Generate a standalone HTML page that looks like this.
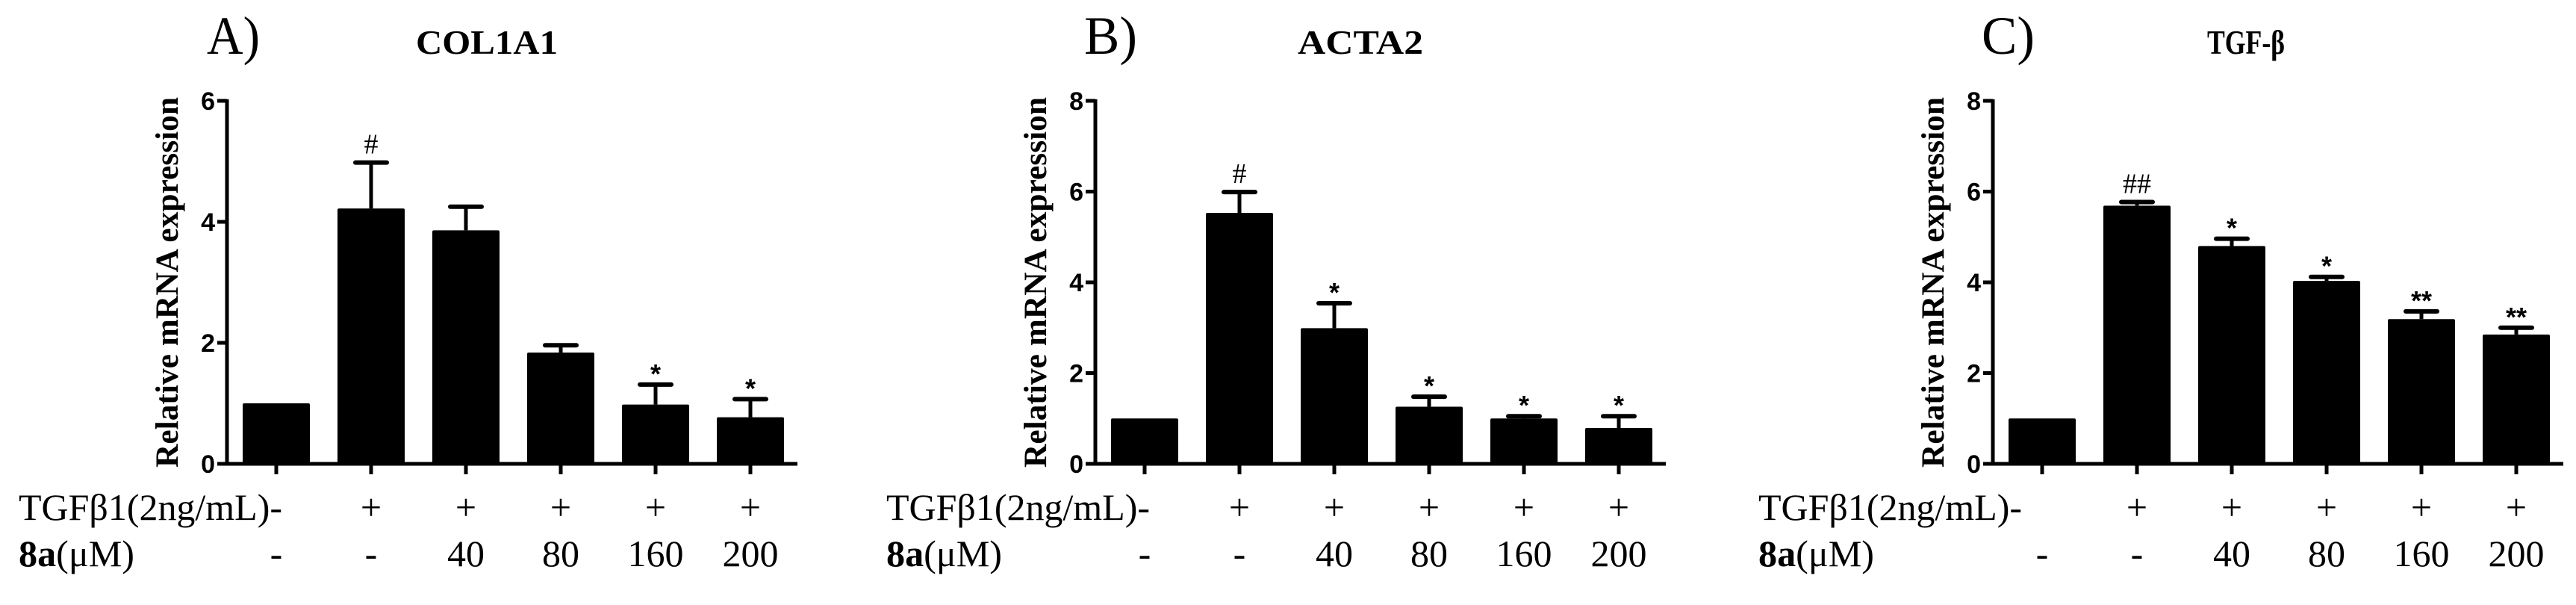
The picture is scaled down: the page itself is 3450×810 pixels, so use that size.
<!DOCTYPE html>
<html><head><meta charset="utf-8">
<style>
html,body{margin:0;padding:0;background:#fff;}
svg{display:block;}
.serif{font-family:"Liberation Serif",serif;}
.sans{font-family:"Liberation Sans",sans-serif;}
</style></head>
<body>
<svg id="fig" width="3450" height="810" viewBox="0 0 3450 810" xmlns="http://www.w3.org/2000/svg"></svg>
<script>
// ---- data ----
const panelLetters = ["A)", "B)", "C)"];
const panelTitles = ["COL1A1", "ACTA2", "TGF-β"];
const colValues = [1.0, 4.22, 3.86, 1.84, 0.98, 0.77];
const colErrors = [0.0, 0.76, 0.39, 0.12, 0.33, 0.30];
const colMarks = ["", "#", "", "", "*", "*"];
const actaValues = [1.0, 5.53, 2.99, 1.26, 1.0, 0.79];
const actaErrors = [0.0, 0.46, 0.55, 0.22, 0.05, 0.26];
const actaMarks = ["", "#", "*", "*", "*", "*"];
const tgfValues = [1.0, 5.69, 4.80, 4.03, 3.19, 2.85];
const tgfErrors = [0.0, 0.08, 0.16, 0.09, 0.17, 0.15];
const tgfMarks = ["", "##", "*", "*", "**", "**"];
const yMaxes = [6, 8, 8];
const yTicksA = [0, 2, 4, 6];
const yTicksBC = [0, 2, 4, 6, 8];
const tgfRow = ["+", "+", "+", "+", "+"];
const doseRow = ["-", "-", "40", "80", "160", "200"];

const NS = "http://www.w3.org/2000/svg";
const svg = document.getElementById("fig");
function mk(tag, attrs, parent, text) {
  const e = document.createElementNS(NS, tag);
  for (const k in attrs) e.setAttribute(k, attrs[k]);
  if (text !== undefined) e.textContent = text;
  (parent || svg).appendChild(e);
  return e;
}

const axisXs = [304, 1467, 2669];
const rowXs = [25, 1187, 2355];
const titleXs = [652, 1822, 3008];
const letterXs = [277, 1452, 2654];
const titleLens = [190, 168, 104];
const Y0 = 621, YTOP = 135;
const allValues = [colValues, actaValues, tgfValues];
const allErrors = [colErrors, actaErrors, tgfErrors];
const allMarks = [colMarks, actaMarks, tgfMarks];
const allTicks = [yTicksA, yTicksBC, yTicksBC];
const names = ["col1a1", "acta2", "tgfb"];

for (let p = 0; p < 3; p++) {
  const ax = axisXs[p];
  const g = mk("g", {}, svg);
  
  
  const yScale = v => Y0 - (v / yMaxes[p]) * (Y0 - YTOP);
  const xScale = i => ax + 66 + i * 127;

  const lt = mk("text", {x: letterXs[p], y: 72, "font-size": 72, class: "serif", textLength: 71, lengthAdjust: "spacingAndGlyphs"}, g, panelLetters[p]);
  
  
  const tt = mk("text", {x: titleXs[p], y: 72, "font-size": 45, "font-weight": "bold", class: "serif", "text-anchor": "middle", textLength: titleLens[p], lengthAdjust: "spacingAndGlyphs"}, g, panelTitles[p]);
  
  

  const yl = mk("text", {x: 0, y: 0, "font-size": 43, "font-weight": "bold", class: "serif", "text-anchor": "middle", textLength: 496, lengthAdjust: "spacingAndGlyphs", transform: "translate(" + (ax - 66) + "," + 378 + ") rotate(-90)"}, g, "Relative mRNA expression");
  
  

  const ya = mk("line", {x1: ax, y1: YTOP - 2, x2: ax, y2: Y0 + 2, stroke: "#000", "stroke-width": 5}, g);
  
  
  const xa = mk("line", {x1: ax - 2, y1: Y0, x2: ax + 764, y2: Y0, stroke: "#000", "stroke-width": 5}, g);
  
  

  allTicks[p].forEach(t => {
    const y = yScale(t);
    const tk = mk("line", {x1: ax - 13, y1: y, x2: ax, y2: y, stroke: "#000", "stroke-width": 5}, g);
    
    
    const tl = mk("text", {x: ax - 16, y: y + 12, "font-size": 34, "font-weight": "bold", class: "sans", "text-anchor": "end"}, g, String(t));
    
    
  });

  const vals = allValues[p], errs = allErrors[p], marks = allMarks[p];
  vals.forEach((v, i) => {
    const cx = xScale(i);
    const top = yScale(v);
    const ct = mk("line", {x1: cx, y1: Y0, x2: cx, y2: Y0 + 14, stroke: "#000", "stroke-width": 5}, g);
    
    
    let capY = top;
    if (errs[i] > 0) {
      capY = yScale(v + errs[i]);
      const el = mk("line", {x1: cx, y1: top, x2: cx, y2: capY, stroke: "#000", "stroke-width": 5}, g);
      
      
      const ec = mk("line", {x1: cx - 21, y1: capY, x2: cx + 21, y2: capY, stroke: "#000", "stroke-width": 6, "stroke-linecap": "round"}, g);
      
      
    }
    const b = mk("rect", {x: cx - 45, y: top, width: 90, height: Y0 - top, fill: "#000", rx: 2}, g);
    
    
    if (marks[i]) {
      const isHash = marks[i].indexOf("#") >= 0;
      const m = mk("text", {x: cx, y: isHash ? capY - 12 : capY - 2, "font-size": isHash ? 38 : 36, "font-weight": isHash ? "normal" : "bold", class: isHash ? "serif" : "sans", "text-anchor": "middle"}, g, marks[i]);
      
      
    }
    if (i > 0) {
      const r1 = mk("text", {x: cx, y: 696, "font-size": 50, class: "serif", "text-anchor": "middle"}, g, tgfRow[i - 1]);
      
      
    }
    const r2 = mk("text", {x: cx, y: 758, "font-size": 50, class: "serif", "text-anchor": "middle"}, g, doseRow[i]);
    
    
  });

  const rl1 = mk("text", {x: rowXs[p], y: 696, "font-size": 50, class: "serif", textLength: 353, lengthAdjust: "spacingAndGlyphs"}, g, "TGFβ1(2ng/mL)-");
  
  
  const rl2 = mk("text", {x: rowXs[p], y: 758, "font-size": 50, class: "serif", textLength: 155, lengthAdjust: "spacingAndGlyphs"}, g);
  
  
  mk("tspan", {"font-weight": "bold"}, rl2, "8a");
  mk("tspan", {}, rl2, "(μM)");
}
</script>
</body></html>
